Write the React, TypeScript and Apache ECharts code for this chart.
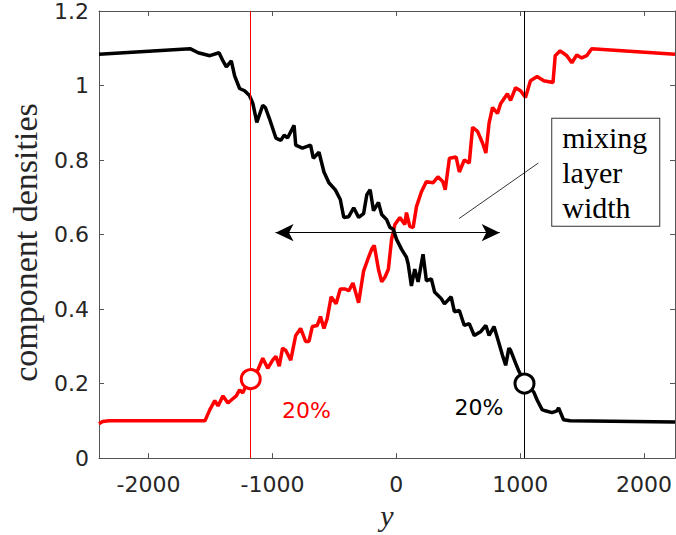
import React, { useEffect, useRef } from "react";
import * as echarts from "echarts";

const xTicks = [-2000, -1000, 0, 1000, 2000];

const blackX = [-2400, -1665, -1599, -1505, -1431, -1399, -1372, -1332, -1305, -1265, -1225, -1185, -1158, -1126, -1078, -1057, -1025, -972, -932, -905, -878, -825, -812, -758, -692, -670, -624, -584, -544, -492, -452, -424, -384, -344, -304, -264, -238, -211, -184, -144, -118, -78, -51, -24, 2, 42, 82, 96, 122, 149, 176, 216, 243, 283, 309, 363, 389, 443, 469, 509, 549, 589, 629, 683, 723, 749, 789, 829, 857, 883, 909, 923, 963, 990, 1030, 1110, 1137, 1177, 1203, 1257, 1297, 1310, 1350, 1403, 2250];
const blackY = [1.084, 1.099, 1.088, 1.080, 1.088, 1.066, 1.050, 1.066, 1.026, 0.992, 0.986, 0.973, 0.952, 0.901, 0.947, 0.941, 0.912, 0.859, 0.853, 0.867, 0.859, 0.893, 0.840, 0.832, 0.840, 0.805, 0.821, 0.768, 0.739, 0.720, 0.694, 0.646, 0.648, 0.672, 0.646, 0.656, 0.707, 0.720, 0.664, 0.686, 0.654, 0.640, 0.619, 0.614, 0.587, 0.561, 0.539, 0.521, 0.462, 0.507, 0.473, 0.547, 0.476, 0.481, 0.446, 0.428, 0.414, 0.433, 0.393, 0.396, 0.356, 0.361, 0.329, 0.340, 0.356, 0.329, 0.353, 0.308, 0.276, 0.249, 0.295, 0.289, 0.255, 0.233, 0.207, 0.177, 0.156, 0.130, 0.127, 0.122, 0.127, 0.135, 0.103, 0.100, 0.097];

const redX = [-2400, -2370, -2320, -1545, -1505, -1465, -1439, -1399, -1359, -1332, -1292, -1265, -1239, -1212, -1175, -1118, -1078, -1038, -998, -972, -945, -918, -892, -852, -812, -772, -732, -705, -678, -638, -612, -584, -558, -526, -486, -452, -412, -384, -350, -304, -264, -224, -198, -178, -144, -118, -91, -64, -38, -11, 29, 69, 82, 109, 136, 163, 203, 243, 296, 336, 376, 395, 429, 483, 509, 549, 589, 616, 656, 697, 723, 749, 777, 817, 843, 897, 923, 963, 1003, 1043, 1083, 1137, 1190, 1265, 1283, 1323, 1377, 1417, 1457, 1497, 1537, 1577, 2250];
const redY = [0.092, 0.098, 0.100, 0.100, 0.130, 0.154, 0.140, 0.167, 0.148, 0.156, 0.167, 0.183, 0.175, 0.196, 0.212, 0.236, 0.268, 0.241, 0.263, 0.273, 0.247, 0.295, 0.289, 0.263, 0.329, 0.348, 0.313, 0.313, 0.353, 0.356, 0.380, 0.348, 0.374, 0.433, 0.414, 0.454, 0.454, 0.449, 0.470, 0.417, 0.502, 0.539, 0.561, 0.571, 0.507, 0.473, 0.486, 0.507, 0.587, 0.627, 0.646, 0.627, 0.659, 0.622, 0.619, 0.675, 0.715, 0.742, 0.739, 0.755, 0.742, 0.720, 0.805, 0.808, 0.768, 0.800, 0.792, 0.888, 0.877, 0.845, 0.819, 0.899, 0.941, 0.925, 0.952, 0.978, 0.960, 0.994, 0.986, 0.968, 1.013, 1.024, 1.013, 1.008, 1.080, 1.093, 1.080, 1.061, 1.082, 1.074, 1.080, 1.099, 1.084];

// 20% crossing positions
const redMark = [-1175, 0.212];
const blackMark = [1035, 0.2];
const pctLabels = [
  { x: -726, y: 0.128, text: "20%", color: "#ff0000" },
  { x: 667, y: 0.135, text: "20%", color: "#000000" },
];
const arrowStart = [-975, 0.605];
const arrowEnd = [835, 0.605];
const leaderStart = [507, 0.643];
const leaderEnd = [1147, 0.792];
const boxAnchor = [1259, 0.767];
const boxText = "mixing\nlayer\nwidth";

const AX = "#262626";

export default function App() {
  const ref = useRef<HTMLDivElement>(null);
  useEffect(() => {
    const chart = echarts.init(ref.current!, null, { renderer: "svg" });
    const black = blackX.map((x, i) => [x, blackY[i]]);
    const red = redX.map((x, i) => [x, redY[i]]);
    const axisLabelStyle = { fontFamily: "DejaVu Sans", fontSize: 22, color: AX };
    chart.setOption({
      animation: false,
      backgroundColor: "#fff",
      grid: { left: 94, right: 1, top: 9, bottom: 74 },
      xAxis: [
        {
          type: "value",
          min: -2400,
          max: 2250,
          position: "bottom",
          axisLine: { show: true, onZero: false, lineStyle: { color: "#555", width: 1 } },
          axisTick: { show: true, inside: true, length: 5, customValues: xTicks, lineStyle: { color: "#555" } },
          axisLabel: { ...axisLabelStyle, margin: 15, customValues: xTicks, formatter: (v: number) => String(v) },
          splitLine: { show: false },
          name: "y",
          nameLocation: "middle",
          nameGap: 40,
          nameTextStyle: { fontFamily: "Liberation Serif", fontStyle: "italic", fontSize: 30, color: AX },
        },
        {
          type: "value",
          min: -2400,
          max: 2250,
          position: "top",
          axisLine: { show: true, onZero: false, lineStyle: { color: "#555", width: 1 } },
          axisTick: { show: true, inside: true, length: 5, customValues: xTicks, lineStyle: { color: "#555" } },
          axisLabel: { show: false },
          splitLine: { show: false },
        },
      ],
      yAxis: [
        {
          type: "value",
          min: 0,
          max: 1.2,
          interval: 0.2,
          position: "left",
          axisLine: { show: true, onZero: false, lineStyle: { color: "#555", width: 1 } },
          axisTick: { show: true, inside: true, length: 5, lineStyle: { color: "#555" } },
          axisLabel: { ...axisLabelStyle, margin: 10 },
          splitLine: { show: false },
          name: "component densities",
          nameLocation: "middle",
          nameGap: 57,
          nameTextStyle: { fontFamily: "Liberation Serif", fontSize: 34, color: AX, padding: [0, 16, 0, 0] },
        },
        {
          type: "value",
          min: 0,
          max: 1.2,
          interval: 0.2,
          position: "right",
          axisLine: { show: true, onZero: false, lineStyle: { color: "#555", width: 1 } },
          axisTick: { show: true, inside: true, length: 5, lineStyle: { color: "#555" } },
          axisLabel: { show: false },
          splitLine: { show: false },
        },
      ],
      series: [
        {
          type: "line",
          name: "red",
          data: red,
          showSymbol: false,
          symbol: "none",
          lineStyle: { color: "#ff0000", width: 3.5 },
          z: 3,
          markLine: {
            silent: true,
            symbol: "none",
            label: { show: false },
            lineStyle: { color: "#ff0000", width: 1, type: "solid" },
            data: [{ xAxis: redMark[0] }],
          },
        },
        {
          type: "line",
          name: "black",
          data: black,
          showSymbol: false,
          symbol: "none",
          lineStyle: { color: "#000", width: 3.5 },
          z: 4,
          markLine: {
            silent: true,
            symbol: "none",
            label: { show: false },
            lineStyle: { color: "#000", width: 1, type: "solid" },
            data: [
              { xAxis: blackMark[0] },
              [
                { coord: leaderStart, lineStyle: { width: 0.8 } },
                { coord: leaderEnd },
              ],
              [
                { coord: arrowStart, symbol: "arrow", symbolSize: [13, 18], lineStyle: { width: 1 } },
                { coord: arrowEnd, symbol: "arrow", symbolSize: [13, 18] },
              ],
            ],
          },
        },
        {
          type: "scatter",
          data: [
            { value: redMark, itemStyle: { borderColor: "#ff0000" } },
            { value: blackMark, itemStyle: { borderColor: "#000" } },
          ],
          symbol: "circle",
          symbolSize: 19,
          itemStyle: { color: "#fff", borderWidth: 3, opacity: 1 },
          z: 6,
          silent: true,
        },
        {
          type: "scatter",
          symbolSize: 0,
          silent: true,
          z: 7,
          itemStyle: { opacity: 1 },
          data: pctLabels.map((p) => ({
            value: [p.x, p.y],
            label: {
              show: true,
              position: "inside",
              formatter: p.text,
              color: p.color,
              opacity: 1,
              fontFamily: "DejaVu Sans",
              fontSize: 22,
            },
          })),
        },
        {
          type: "scatter",
          symbolSize: 0,
          silent: true,
          z: 8,
          itemStyle: { opacity: 1 },
          data: [
            {
              value: boxAnchor,
              label: {
                show: true,
                position: "inside",
                formatter: boxText,
                align: "left",
                verticalAlign: "middle",
                color: "#000",
                opacity: 1,
                fontFamily: "Liberation Serif",
                fontSize: 30,
                lineHeight: 35,
                backgroundColor: "#fff",
                borderColor: "#333",
                borderWidth: 1,
                padding: [2, 12, 0, 10],
              },
            },
          ],
        },
      ],
    });
    return () => chart.dispose();
  }, []);
  return (
    <div
      ref={ref}
      style={{ position: "absolute", left: 0, top: 0, width: 676, height: 535, background: "#fff" }}
    />
  );
}
